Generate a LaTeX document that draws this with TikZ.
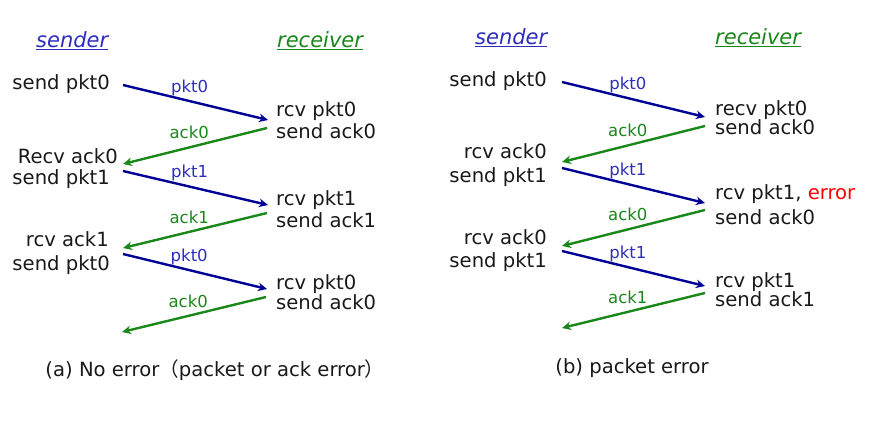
\documentclass[tikz,border=0pt]{standalone}
\usepackage{fontspec}
\setmainfont{DejaVu Sans}
\newfontfamily\cjk{Noto Sans CJK SC}
\usetikzlibrary{arrows.meta}

\definecolor{pktblue}{RGB}{0,0,150}
\definecolor{pkttext}{RGB}{45,45,190}
\definecolor{ackgreen}{RGB}{25,135,25}
\definecolor{errred}{RGB}{255,0,0}

\tikzset{
  txt/.style={font=\fontsize{19.6}{21}\selectfont, inner sep=0pt, text=black!90},
  ltxt/.style={txt, anchor=base east},
  rtxt/.style={txt, anchor=base west},
  head/.style={font=\fontsize{21}{24}\selectfont\itshape, inner sep=0pt, anchor=base west},
  pktarrow/.style={draw=pktblue, line width=2.4pt, -{Stealth[length=9pt,width=8.5pt]}},
  ackarrow/.style={draw=ackgreen, line width=2.4pt, -{Stealth[length=9pt,width=8.5pt]}},
  lbl/.style={font=\fontsize{16.5}{18}\selectfont, inner sep=0pt, text height=12pt, text depth=3.5pt, above=4pt},
  pktlbl/.style={lbl, text=pkttext, pos=0.46},
  acklbl/.style={lbl, text=ackgreen, pos=0.54}
}

\begin{document}
\begin{tikzpicture}[x=1pt,y=-1pt]
\useasboundingbox (0,0) rectangle (876,428);

% (a) no error
\node[head, text=pkttext] (aSnd) at (36,48) {\underline{sender}};
\node[head, text=ackgreen] (aRcv) at (277,48) {\underline{receiver}};

\node[ltxt] (aL1) at (110,90) {send pkt0};
\node[ltxt] (aL2) at (118,163) {Recv ack0};
\node[ltxt] (aL3) at (110,184) {send pkt1};
\node[ltxt] (aL4) at (109,246) {rcv ack1};
\node[ltxt] (aL5) at (110,270) {send pkt0};

\node[rtxt] (aR1) at (276,117) {rcv pkt0};
\node[rtxt] (aR2) at (276,138) {send ack0};
\node[rtxt] (aR3) at (276,205) {rcv pkt1};
\node[rtxt] (aR4) at (276,227) {send ack1};
\node[rtxt] (aR5) at (276,289) {rcv pkt0};
\node[rtxt] (aR6) at (276,309) {send ack0};

\coordinate (aS1) at (123,85);
\coordinate (aE1) at (268,120);
\coordinate (aS2) at (267,128);
\coordinate (aE2) at (123,164);
\coordinate (aS3) at (123,171);
\coordinate (aE3) at (268,205);
\coordinate (aS4) at (267,213);
\coordinate (aE4) at (123,248);
\coordinate (aS5) at (123,254);
\coordinate (aE5) at (267,289);
\coordinate (aS6) at (266,297);
\coordinate (aE6) at (122,332);

\draw[pktarrow] (aS1) -- node[pktlbl] {pkt0} (aE1);
\draw[ackarrow] (aS2) -- node[acklbl] {ack0} (aE2);
\draw[pktarrow] (aS3) -- node[pktlbl] {pkt1} (aE3);
\draw[ackarrow] (aS4) -- node[acklbl] {ack1} (aE4);
\draw[pktarrow] (aS5) -- node[pktlbl] {pkt0} (aE5);
\draw[ackarrow] (aS6) -- node[acklbl] {ack0} (aE6);

\node[txt, anchor=base] (aCap) at (215,376) {(a) No error{\cjk（}packet or ack error{\cjk）}};

% (b) packet error
\node[head, text=pkttext] (bSnd) at (475,45) {\underline{sender}};
\node[head, text=ackgreen] (bRcv) at (715,45) {\underline{receiver}};

\node[ltxt] (bL1) at (547,87) {send pkt0};
\node[ltxt] (bL2) at (547,158) {rcv ack0};
\node[ltxt] (bL3) at (547,182) {send pkt1};
\node[ltxt] (bL4) at (547,244) {rcv ack0};
\node[ltxt] (bL5) at (547,267) {send pkt1};

\node[rtxt] (bR1) at (715,115) {recv pkt0};
\node[rtxt] (bR2) at (715,135) {send ack0};
\node[rtxt] (bR3) at (715,199) {rcv pkt1, \textcolor{errred}{error}};
\node[rtxt] (bR4) at (715,224) {send ack0};
\node[rtxt] (bR5) at (715,287) {rcv pkt1};
\node[rtxt] (bR6) at (715,306) {send ack1};

\coordinate (bS1) at (562,82);
\coordinate (bE1) at (705,117);
\coordinate (bS2) at (705,126);
\coordinate (bE2) at (562,162);
\coordinate (bS3) at (562,168);
\coordinate (bE3) at (705,203);
\coordinate (bS4) at (705,210);
\coordinate (bE4) at (562,246);
\coordinate (bS5) at (562,251);
\coordinate (bE5) at (705,286);
\coordinate (bS6) at (705,293);
\coordinate (bE6) at (562,328);

\draw[pktarrow] (bS1) -- node[pktlbl] {pkt0} (bE1);
\draw[ackarrow] (bS2) -- node[acklbl] {ack0} (bE2);
\draw[pktarrow] (bS3) -- node[pktlbl] {pkt1} (bE3);
\draw[ackarrow] (bS4) -- node[acklbl] {ack0} (bE4);
\draw[pktarrow] (bS5) -- node[pktlbl] {pkt1} (bE5);
\draw[ackarrow] (bS6) -- node[acklbl] {ack1} (bE6);

\node[txt, anchor=base] (bCap) at (632,373) {(b) packet error};
\end{tikzpicture}
\end{document}
